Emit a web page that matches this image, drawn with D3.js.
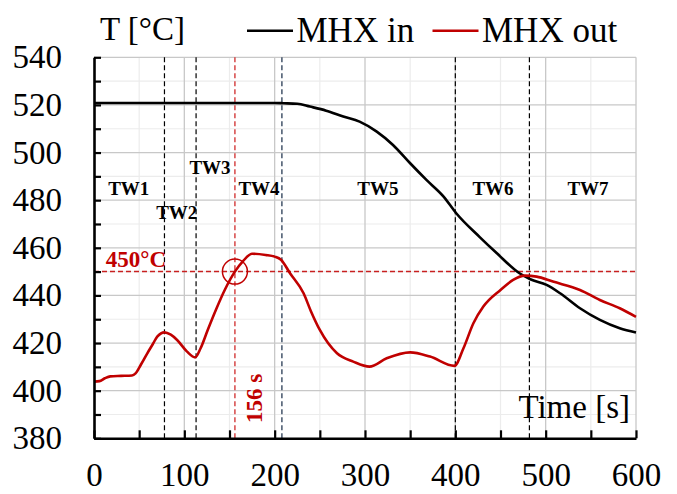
<!DOCTYPE html>
<html>
<head>
<meta charset="utf-8">
<script src="https://cdn.jsdelivr.net/npm/d3@7"></script>
<style>
  body { margin: 0; background: #fff; }
  text { font-family: "Times New Roman", "Liberation Serif", serif; }
</style>
</head>
<body>
<script>
// MHX inlet / outlet temperature over time
const inTime = [0, 100, 200, 210, 225, 239, 257, 276, 294, 313, 331, 350, 368, 387, 401, 427, 446, 471, 483, 501, 516, 538, 560, 582, 600];
const inTemp = [520.8, 520.8, 520.8, 520.7, 520.5, 519.3, 517.6, 515.1, 513, 508.8, 503.2, 495.5, 488.5, 481.5, 474.5, 464.5, 457.7, 449.3, 446.8, 444.4, 440.9, 434.6, 429.7, 426.2, 424.4];

const outTime = [0, 6, 12, 18, 30, 42, 46, 52, 59, 65, 70, 78, 85, 92, 103, 112, 118, 126, 135, 145, 156, 165, 175, 190, 200, 207, 217, 232, 240, 250, 269, 287, 305, 324, 350, 372, 399, 409, 420, 431, 450, 464, 477, 490, 508, 538, 560, 582, 600];
const outTemp = [403.8, 404, 405.2, 406, 406.2, 406.4, 407.3, 411, 415.7, 419.5, 422.7, 424.5, 423.5, 421.3, 416.4, 414, 417.8, 425.6, 434, 442.5, 450, 454.4, 457.5, 457, 456.3, 455, 449.3, 440.9, 433.5, 425.5, 415.7, 412.2, 410.1, 413.6, 416.1, 414.3, 410.4, 417.8, 428.3, 435.3, 442.3, 446.5, 448.3, 447.9, 445.8, 442.3, 438.1, 434.6, 431];

// time window boundaries [s]
const twBounds = [78, 113, 400, 482];
const twRed = 156;
const twSlate = 208;

const twNames = ["TW1", "TW2", "TW3", "TW4", "TW5", "TW6", "TW7"];
const twLabelT = [38.5, 91.6, 128.4, 182.7, 314.2, 441.7, 546.9];
const twLabelV = [482, 472.1, 491, 482, 482.2, 482, 482];

const yTicks = [380, 400, 420, 440, 460, 480, 500, 520, 540];
const xTicks = [0, 100, 200, 300, 400, 500, 600];
const limitTemp = 450;

const width = 677, height = 494;

const svg = d3.select("body").append("svg")
  .attr("width", width)
  .attr("height", height);

const x = d3.scaleLinear().domain([0, 600]).range([94, 636]);
const y = d3.scaleLinear().domain([380, 540]).range([438.3, 57.3]);

// grid: minor first, then major
const minorY = d3.range(390, 540, 20);
const minorX = d3.range(50, 600, 100);

svg.append("g").selectAll("line")
  .data(minorY)
  .enter().append("line")
    .attr("x1", x(0)).attr("x2", x(600))
    .attr("y1", function(d) { return y(d); })
    .attr("y2", function(d) { return y(d); })
    .attr("stroke", "#ececec")
    .attr("stroke-width", 1.2);

svg.append("g").selectAll("line")
  .data(minorX)
  .enter().append("line")
    .attr("y1", y(380)).attr("y2", y(540))
    .attr("x1", function(d) { return x(d); })
    .attr("x2", function(d) { return x(d); })
    .attr("stroke", "#ececec")
    .attr("stroke-width", 1.2);

svg.append("g").selectAll("line")
  .data(yTicks.slice(1))
  .enter().append("line")
    .attr("x1", x(0)).attr("x2", x(600))
    .attr("y1", function(d) { return y(d); })
    .attr("y2", function(d) { return y(d); })
    .attr("stroke", "#c8c8c8")
    .attr("stroke-width", 1.3);

svg.append("g").selectAll("line")
  .data(xTicks.slice(1))
  .enter().append("line")
    .attr("y1", y(380)).attr("y2", y(540))
    .attr("x1", function(d) { return x(d); })
    .attr("x2", function(d) { return x(d); })
    .attr("stroke", "#c8c8c8")
    .attr("stroke-width", 1.3);

// vertical dashed time-window lines
svg.append("g").selectAll("line")
  .data(twBounds)
  .enter().append("line")
    .attr("y1", y(380)).attr("y2", y(540))
    .attr("x1", function(d) { return x(d); })
    .attr("x2", function(d) { return x(d); })
    .attr("stroke", "#000")
    .attr("stroke-width", 1.2)
    .attr("stroke-dasharray", "5,3");

svg.append("line")
  .attr("y1", y(380)).attr("y2", y(540))
  .attr("x1", x(twRed)).attr("x2", x(twRed))
  .attr("stroke", "#d02a2a")
  .attr("stroke-width", 1.3)
  .attr("stroke-dasharray", "5,3");

svg.append("line")
  .attr("y1", y(380)).attr("y2", y(540))
  .attr("x1", x(twSlate)).attr("x2", x(twSlate))
  .attr("stroke", "#44546a")
  .attr("stroke-width", 1.5)
  .attr("stroke-dasharray", "5,3");

// 450 °C limit
svg.append("line")
  .attr("x1", x(0)).attr("x2", x(600))
  .attr("y1", y(limitTemp)).attr("y2", y(limitTemp))
  .attr("stroke", "#c82020")
  .attr("stroke-width", 1.5)
  .attr("stroke-dasharray", "5,3");

// curves
const line = d3.line()
  .x(function(d) { return x(d[0]); })
  .y(function(d) { return y(d[1]); })
  .curve(d3.curveMonotoneX);

svg.append("path")
  .datum(d3.zip(inTime, inTemp))
  .attr("fill", "none")
  .attr("stroke", "#000")
  .attr("stroke-width", 2.6)
  .attr("d", line);

svg.append("path")
  .datum(d3.zip(outTime, outTemp))
  .attr("fill", "none")
  .attr("stroke", "#c00000")
  .attr("stroke-width", 2.6)
  .attr("d", line);

// circle where outlet crosses 450 °C
svg.append("circle")
  .attr("cx", x(twRed))
  .attr("cy", y(limitTemp))
  .attr("r", 12.5)
  .attr("fill", "none")
  .attr("stroke", "#c00000")
  .attr("stroke-width", 1.5);

// axes
const yAxis = svg.append("g")
  .attr("transform", "translate(" + x(0) + ",0)")
  .call(d3.axisLeft(y)
    .tickValues(d3.range(380, 541, 10))
    .tickSize(-7)
    .tickSizeOuter(0)
    .tickPadding(32)
    .tickFormat(function(d) { return d % 20 === 0 ? d : ""; }));

const xAxis = svg.append("g")
  .attr("transform", "translate(0," + y(380) + ")")
  .call(d3.axisBottom(x)
    .tickValues(d3.range(0, 601, 50))
    .tickSize(-8)
    .tickSizeOuter(0)
    .tickPadding(24)
    .tickFormat(function(d) { return d % 100 === 0 ? d : ""; }));

[yAxis, xAxis].forEach(function(a) {
  a.select(".domain").attr("stroke", "#000").attr("stroke-width", 2.6);
  a.selectAll(".tick line").attr("stroke", "#000").attr("stroke-width", 2.2);
  a.selectAll(".tick text")
    .attr("fill", "#000")
    .style("font-family", "'Times New Roman', 'Liberation Serif', serif")
    .style("font-size", "33px");
});

// time window labels
svg.append("g").selectAll("text")
  .data(twNames)
  .enter().append("text")
    .attr("x", function(d, i) { return x(twLabelT[i]); })
    .attr("y", function(d, i) { return y(twLabelV[i]); })
    .attr("text-anchor", "middle")
    .style("font-size", "19px")
    .style("font-weight", "bold")
    .text(function(d) { return d; });

svg.append("text")
  .attr("x", x(13))
  .attr("y", y(451.8))
  .attr("fill", "#c00000")
  .style("font-size", "23px")
  .style("font-weight", "bold")
  .text("450°C");

svg.append("text")
  .attr("transform", "translate(" + x(186) + "," + y(386.4) + ") rotate(-90)")
  .attr("fill", "#c00000")
  .style("font-size", "23px")
  .style("font-weight", "bold")
  .text("156 s");

// titles
svg.append("text")
  .attr("x", 100)
  .attr("y", 39.5)
  .style("font-size", "33px")
  .text("T [°C]");

svg.append("text")
  .attr("x", x(600) - 6)
  .attr("y", 418)
  .attr("text-anchor", "end")
  .style("font-size", "33px")
  .text("Time [s]");

// legend
const legend = [
  { name: "MHX in", color: "#000", x0: 247 },
  { name: "MHX out", color: "#c00000", x0: 432.5 }
];

const lg = svg.append("g").selectAll("g")
  .data(legend)
  .enter().append("g")
    .attr("transform", function(d) { return "translate(" + d.x0 + ",0)"; });

lg.append("line")
  .attr("x1", 0).attr("x2", 46)
  .attr("y1", 30.7).attr("y2", 30.7)
  .attr("stroke", function(d) { return d.color; })
  .attr("stroke-width", 2.6);

lg.append("text")
  .attr("x", 49.5)
  .attr("y", 41.7)
  .style("font-size", "35px")
  .text(function(d) { return d.name; });
</script>
</body>
</html>
